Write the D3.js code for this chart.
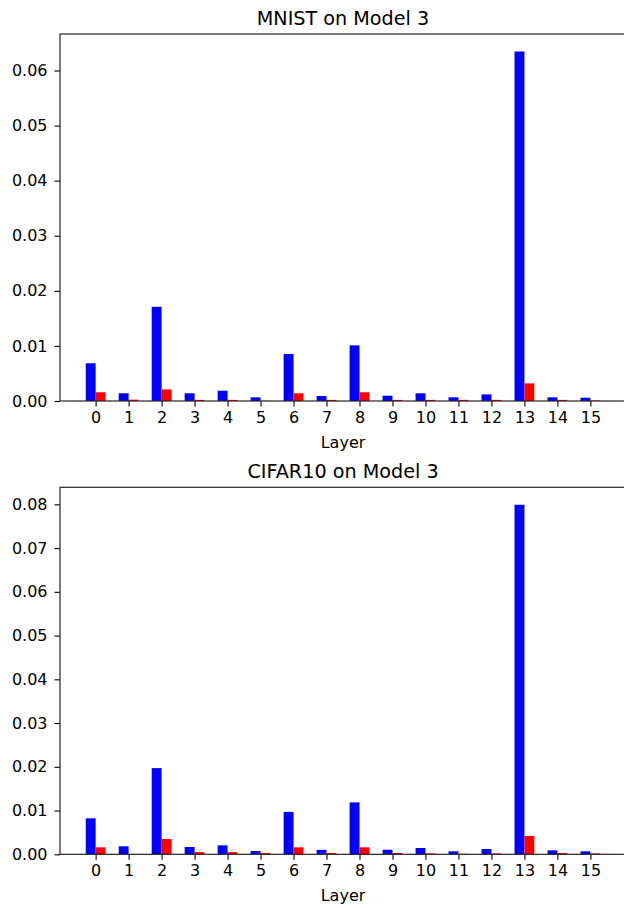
<!DOCTYPE html>
<html>
<head>
<meta charset="utf-8">
<script src="https://cdn.jsdelivr.net/npm/d3@7"></script>
<style>
	body { margin: 0; background: #fff; }
	svg { display: block; }
	text { font-family: "DejaVu Sans", sans-serif; fill: #000; }
</style>
</head>
<body>
<div id="chart"></div>
<script>
// layer index on the x axis
var layers = [0, 1, 2, 3, 4, 5, 6, 7, 8, 9, 10, 11, 12, 13, 14, 15];

// MNIST on Model 3
var mnistBlue = [0.00685, 0.0014, 0.0171, 0.0014, 0.00187, 0.00067, 0.00854, 0.0009,
	0.0101, 0.00096, 0.0014, 0.00067, 0.0012, 0.06345, 0.00067, 0.0006];
var mnistRed = [0.00158, 0.00024, 0.0021, 0.0002, 0.0002, 0.00003, 0.0014, 0.0002,
	0.00158, 0.0002, 0.0002, 0.0002, 0.0002, 0.0032, 0.0002, 0.0001];

// CIFAR10 on Model 3
var cifarBlue = [0.00822, 0.00183, 0.0197, 0.00167, 0.00205, 0.00075, 0.0097, 0.001,
	0.01187, 0.00105, 0.00144, 0.00068, 0.0012, 0.0799, 0.0009, 0.00068];
var cifarRed = [0.0016, 0.00005, 0.0035, 0.0005, 0.0005, 0.0003, 0.0016, 0.0003,
	0.0016, 0.0003, 0.0002, 0.0001, 0.0002, 0.0042, 0.0003, 0.0002];

// y tick values for each panel
var mnistTicks = [0, 0.01, 0.02, 0.03, 0.04, 0.05, 0.06];
var cifarTicks = [0, 0.01, 0.02, 0.03, 0.04, 0.05, 0.06, 0.07, 0.08];

var barWidth = 0.3;

var svg = d3.select("#chart")
	.append("svg")
	.attr("width", 624)
	.attr("height", 908);

function drawPanel(opts) {
	var left = 60, right = 626;

	var x = d3.scaleLinear()
		.domain([-1.08, 16.08])
		.range([left, right]);

	var ymax = d3.max(opts.blue) * 1.05;
	var y = d3.scaleLinear()
		.domain([0, ymax])
		.range([opts.bottom, opts.top]);

	var g = svg.append("g");

	// blue bars sit left of the tick, red bars right of it
	g.selectAll(".blue")
		.data(layers)
		.enter()
		.append("rect")
		.attr("x", function (d) { return x(d - barWidth); })
		.attr("width", function (d) { return x(d) - x(d - barWidth); })
		.attr("y", function (d, i) { return y(opts.blue[i]); })
		.attr("height", function (d, i) { return y(0) - y(opts.blue[i]); })
		.style("fill", "#0000ff");

	g.selectAll(".red")
		.data(layers)
		.enter()
		.append("rect")
		.attr("x", function (d) { return x(d); })
		.attr("width", function (d) { return x(d + barWidth) - x(d); })
		.attr("y", function (d, i) { return y(opts.red[i]); })
		.attr("height", function (d, i) { return y(0) - y(opts.red[i]); })
		.style("fill", "#ff0000");

	// x axis
	var xAxis = g.append("g")
		.attr("transform", "translate(0," + opts.bottom + ")")
		.call(d3.axisBottom(x).tickValues(layers).tickFormat(d3.format("d")).tickSize(5.5).tickPadding(5));

	// y axis
	var yAxis = g.append("g")
		.attr("transform", "translate(" + left + ",0)")
		.call(d3.axisLeft(y).tickValues(opts.ticks).tickFormat(d3.format(".2f")).tickSize(5.5).tickPadding(7));

	[xAxis, yAxis].forEach(function (a) {
		a.select(".domain").remove();
		a.selectAll("line").style("stroke", "#000").style("stroke-width", 1.1);
		a.selectAll("text").style("font-size", "16px").style("fill", "#000");
	});

	// frame around the axes
	g.append("rect")
		.attr("x", left)
		.attr("y", opts.top)
		.attr("width", right - left)
		.attr("height", opts.bottom - opts.top)
		.style("fill", "none")
		.style("stroke", "#222")
		.style("stroke-width", 1.2);

	// title
	g.append("text")
		.attr("x", (left + right) / 2)
		.attr("y", opts.top - 9.5)
		.attr("text-anchor", "middle")
		.style("font-size", "19.2px")
		.text(opts.title);

	// x label
	g.append("text")
		.attr("x", (left + right) / 2)
		.attr("y", opts.bottom + 47)
		.attr("text-anchor", "middle")
		.style("font-size", "16px")
		.text("Layer");
}

drawPanel({ title: "MNIST on Model 3", blue: mnistBlue, red: mnistRed, ticks: mnistTicks, top: 34, bottom: 401 });
drawPanel({ title: "CIFAR10 on Model 3", blue: cifarBlue, red: cifarRed, ticks: cifarTicks, top: 487.3, bottom: 854.3 });
</script>
</body>
</html>
